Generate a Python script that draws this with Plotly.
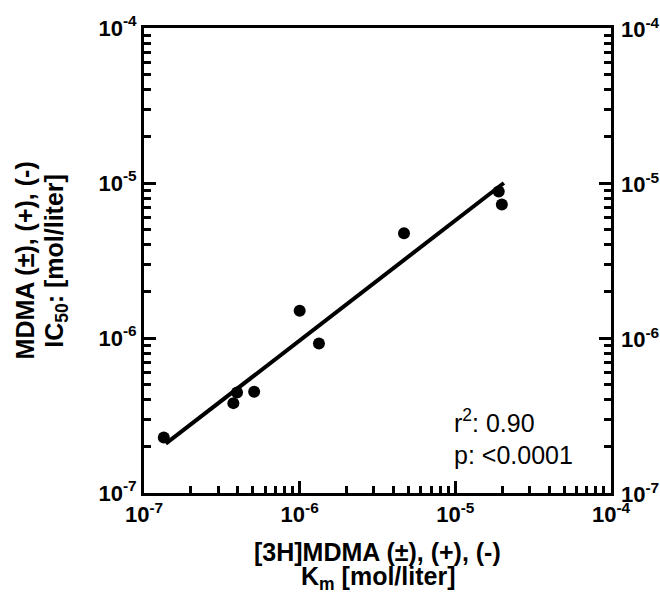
import math
import plotly.graph_objects as go

# [3H]MDMA Km (x) vs MDMA IC50 (y), mol/liter
km_values = [1.34e-7, 3.75e-7, 3.96e-7, 5.1e-7, 1.0e-6, 1.33e-6, 4.68e-6, 1.9e-5, 1.99e-5]
ic50_values = [2.28e-7, 3.8e-7, 4.45e-7, 4.5e-7, 1.5e-6, 9.2e-7, 4.74e-6, 8.8e-6, 7.26e-6]

# regression line end points
fit_x = [1.38e-7, 2.05e-5]
fit_y = [2.08e-7, 1.0e-5]

# decade tick labels
decade_vals = [1e-7, 1e-6, 1e-5, 1e-4]
decade_text = ["<b>10<sup>-7</sup></b>", "<b>10<sup>-6</sup></b>",
               "<b>10<sup>-5</sup></b>", "<b>10<sup>-4</sup></b>"]

FONT = "Arial"

fig = go.Figure()
fig.add_trace(go.Scatter(
    x=fit_x, y=fit_y, mode="lines",
    line=dict(color="black", width=4),
    showlegend=False, hoverinfo="skip",
))
fig.add_trace(go.Scatter(
    x=km_values, y=ic50_values, mode="markers",
    marker=dict(color="black", size=12, line=dict(width=0)),
    showlegend=False,
))

axis_style = dict(
    type="log", range=[-7, -4],
    tickvals=decade_vals, ticktext=decade_text,
    ticks="inside", ticklen=12, tickwidth=3, tickcolor="black",
    showline=True, linecolor="black", linewidth=3,
    minor=dict(ticks="inside", ticklen=7, tickwidth=3, tickcolor="black", dtick="D1"),
)

fig.update_layout(
    width=660, height=593,
    margin=dict(l=144, r=49, t=24, b=100),
    plot_bgcolor="white",
    font=dict(family=FONT, size=22, color="black"),
    xaxis=dict(**axis_style, mirror=True),
    # right side repeats the ticks of the left axis
    yaxis=dict(**axis_style, mirror="ticks"),
)

title_font = dict(family=FONT, size=25, color="black")
annotations = [
    dict(text="<b>[3H]MDMA (±), (+), (-)</b>", x=0.5, y=-0.126, xref="paper", yref="paper",
         xanchor="center", yanchor="middle", showarrow=False, font=title_font),
    dict(text="<b>K<sub>m</sub> [mol/liter]</b>", x=0.5, y=-0.182, xref="paper", yref="paper",
         xanchor="center", yanchor="middle", showarrow=False, font=title_font),
    dict(text="<b>MDMA (±), (+), (-)</b>", x=-0.255, y=0.5, xref="paper", yref="paper",
         xanchor="center", yanchor="middle", textangle=-90, showarrow=False, font=title_font),
    dict(text="<b>IC<sub>50</sub>: [mol/liter]</b>", x=-0.19, y=0.5, xref="paper", yref="paper",
         xanchor="center", yanchor="middle", textangle=-90, showarrow=False, font=title_font),
    dict(text="r<sup>2</sup>: 0.90<br>p: &lt;0.0001", x=0.66, y=0.1215, xref="paper", yref="paper",
         xanchor="left", yanchor="middle", align="left", showarrow=False,
         font=dict(family=FONT, size=25, color="black")),
]
# tick labels on the right-hand side, placed on the y scale (log units)
for val, txt in zip(decade_vals, decade_text):
    annotations.append(dict(
        text=txt, x=1, y=math.log10(val), xref="paper", yref="y",
        xanchor="left", yanchor="middle", xshift=8, showarrow=False,
        font=dict(family=FONT, size=22, color="black"),
    ))
fig.update_layout(annotations=annotations)

fig.write_html("out.html")
